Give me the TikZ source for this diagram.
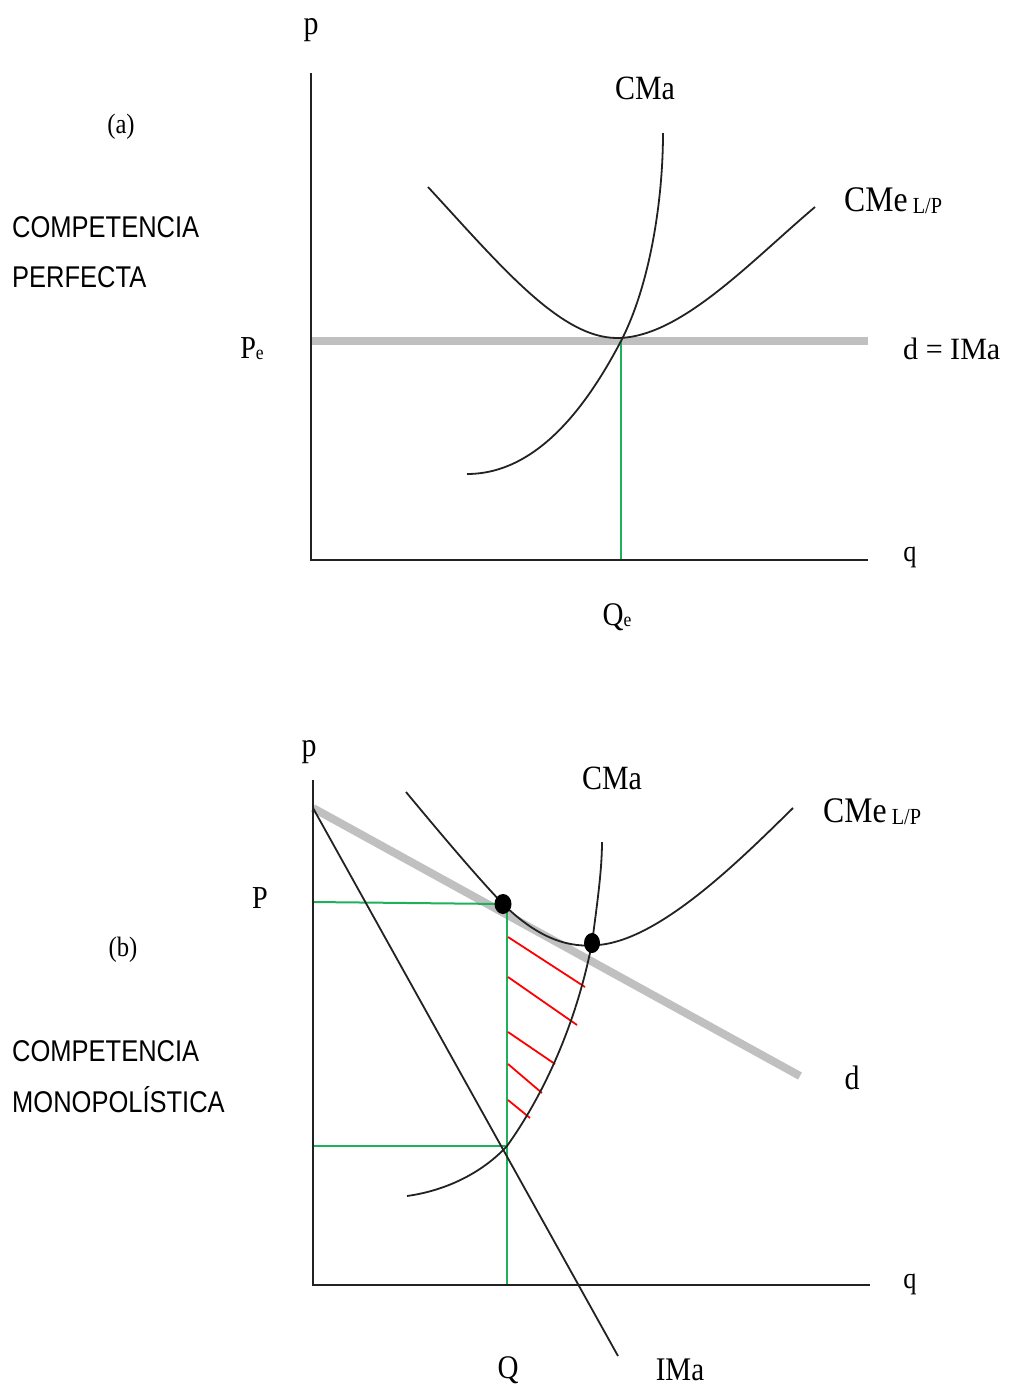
\documentclass[tikz,border=0pt]{standalone}
\usepackage{fontspec}
\usepackage{graphicx}
\setmainfont{Liberation Serif}
\newfontfamily\sansf{Liberation Sans}
\definecolor{grnc}{RGB}{30,176,90}
\definecolor{grayc}{RGB}{192,192,192}
\definecolor{inkc}{RGB}{34,34,34}
\newcommand\sq[2][0.88]{\scalebox{#1}[1]{#2}}
\newcommand\fs[1]{\fontsize{#1}{#1}\selectfont}
\begin{document}
\begin{tikzpicture}[x=1pt,y=-1pt,
  ax/.style={line width=2.2pt, inkc},
  crv/.style={line width=1.8pt, inkc},
  dem/.style={line width=8pt, grayc},
  grn/.style={line width=2pt, grnc},
  hat/.style={line width=1.8pt, red},
  lbl/.style={inner sep=0pt, text=black},
  sans/.style={inner sep=0pt, anchor=base west, font=\sansf\fs{30}},
  dot/.style={fill=black, draw=none}
]
\useasboundingbox (0,0) rectangle (1010,1392);

% ---------- panel (a) ----------
\coordinate (aO) at (311,560);
\coordinate (aT) at (311,73);
\coordinate (aR) at (868,560);
\coordinate (aGL) at (311,341);
\coordinate (aGR) at (868,341);
\coordinate (aE) at (621,341);

\draw[dem] (aGL) -- (aGR);
\draw[grn] (aE) -- (aE |- aO);
\draw[crv] (428,187) .. controls (500,265) and (560,338) .. (617,338)
            .. controls (680,338) and (750,262) .. (815,207);
\draw[crv] (467,474) .. controls (540,474) and (590,400) .. (aE)
            .. controls (650,285) and (663,200) .. (663,133);
\draw[ax] (aT) -- (aO) -- (aR);

\node[lbl, font=\fs{34}] (ap) at (311,30) {\sq{p}};
\node[lbl, font=\fs{34}] (aCMa) at (645,88) {\sq{CMa}};
\node[lbl, font=\fs{36}, anchor=west] (aCMe) at (844,201) {\sq{CMe\,\raisebox{-2pt}{\fs{23}L/P}}};
\node[lbl, font=\fs{31}, anchor=west] (adI) at (903,349) {\sq[0.97]{d = IMa}};
\node[lbl, font=\fs{30}] (aq) at (910,557) {\sq{q}};
\node[lbl, font=\fs{32}] (aPe) at (252,349) {\sq{P\raisebox{-1pt}{\fs{20}e}}};
\node[lbl, font=\fs{33}] (aQe) at (617,617) {\sq{Q\raisebox{-1pt}{\fs{20}e}}};
\node[lbl, font=\fs{28}] (alab) at (121,127) {\sq{(a)}};
\node[sans] (acomp) at (12,237) {\sq[0.85]{COMPETENCIA}};
\node[sans] (aperf) at (12,287) {\sq[0.85]{PERFECTA}};

% ---------- panel (b) ----------
\coordinate (bO) at (313,1285);
\coordinate (bT) at (313,780);
\coordinate (bR) at (870,1285);
\coordinate (bA) at (313,808);
\coordinate (bD) at (800,1076);
\coordinate (bI) at (618,1356);
\coordinate (bP1) at (503,904);
\coordinate (bP2) at (592,943);
\coordinate (bQ) at (507,1146);

\draw[dem] (bA) -- (bD);
\draw[grn] (313,902) -- (bP1);
\draw[grn] (507,906) -- (bQ |- bO);
\draw[grn] (bT |- bQ) -- (bQ);

\foreach \ya/\xb/\yb in {937/585/987, 977/577/1025, 1032/555/1064, 1064/542/1093, 1100/530/1118}
  \draw[hat] (508,\ya) -- (\xb,\yb);

\draw[crv] (bA) -- (bI);
\draw[crv] (406,792) .. controls (450,845) and (480,880) .. (bP1)
            .. controls (540,940) and (570,948) .. (598,945)
            .. controls (660,940) and (740,860) .. (793,808);
\draw[crv] (407,1196) .. controls (450,1190) and (485,1170) .. (bQ)
            .. controls (540,1100) and (575,1030) .. (bP2)
            .. controls (597,905) and (602,870) .. (602,842);
\draw[ax] (bT) -- (bO) -- (bR);

\fill[dot] (bP1) ellipse [x radius=8.5, y radius=10];
\fill[dot] (bP2) ellipse [x radius=8, y radius=10];

\node[lbl, font=\fs{34}] (bp) at (309,752) {\sq{p}};
\node[lbl, font=\fs{34}] (bCMa) at (612,778) {\sq{CMa}};
\node[lbl, font=\fs{36}, anchor=west] (bCMe) at (823,812) {\sq{CMe\,\raisebox{-2pt}{\fs{23}L/P}}};
\node[lbl, font=\fs{32}] (bPl) at (260,898) {\sq{P}};
\node[lbl, font=\fs{34}] (bd) at (852,1078) {\sq{d}};
\node[lbl, font=\fs{30}] (bq) at (910,1284) {\sq{q}};
\node[lbl, font=\fs{33}] (bQl) at (508,1370) {\sq{Q}};
\node[lbl, font=\fs{33}] (bIMa) at (680,1370) {\sq{IMa}};
\node[lbl, font=\fs{28}] (blab) at (123,950) {\sq{(b)}};
\node[sans] (bcomp) at (12,1061) {\sq[0.85]{COMPETENCIA}};
\node[sans] (bmono) at (12,1112) {\sq[0.85]{MONOPOLÍSTICA}};
\end{tikzpicture}
\end{document}
